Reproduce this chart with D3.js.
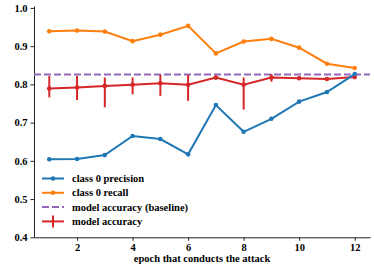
<!DOCTYPE html>
<html>
<head>
<meta charset="utf-8">
<script src="https://cdn.jsdelivr.net/npm/d3@7"></script>
<style>
body { margin: 0; background: white; }
</style>
</head>
<body>
<svg id="chart" width="374" height="267" font-family="'Liberation Serif', 'Times New Roman', serif" font-weight="bold"></svg>
<script>
const epochs = [1, 2, 3, 4, 5, 6, 7, 8, 9, 10, 11, 12]
const precision = [0.604, 0.605, 0.615, 0.665, 0.657, 0.617, 0.746, 0.676, 0.710, 0.755, 0.780, 0.827]
const recall = [0.939, 0.941, 0.938, 0.913, 0.930, 0.953, 0.881, 0.912, 0.919, 0.896, 0.854, 0.843]
const accuracy = [0.789, 0.792, 0.796, 0.799, 0.803, 0.799, 0.818, 0.799, 0.818, 0.816, 0.814, 0.819]
const accLow = [0.766, 0.759, 0.740, 0.774, 0.770, 0.757, 0.812, 0.734, 0.807, 0.812, 0.809, 0.815]
const accHigh = [0.822, 0.822, 0.818, 0.818, 0.825, 0.825, 0.822, 0.818, 0.827, 0.821, 0.819, 0.823]
const baseline = 0.826
const xTicks = [2, 4, 6, 8, 10, 12]
const yTicks = [0.4, 0.5, 0.6, 0.7, 0.8, 0.9, 1.0]

const FONT = "'Liberation Serif', 'Times New Roman', serif"
const svg = d3.select('#chart')
const x = d3.scaleLinear().domain([0.45, 12.55]).range([34, 370])
const y = d3.scaleLinear().domain([0.4, 1.005]).range([237.3, 6])

// axes
svg.append('g')
  .attr('transform', 'translate(34,0)')
  .call(d3.axisLeft(y).tickValues(yTicks).tickFormat(d3.format('.1f')).tickSize(3.5).tickSizeOuter(0))
  .call(g => g.attr('font-family', FONT).attr('font-size', 10.5))
  .call(g => g.selectAll('text').attr('fill', '#000').attr('font-weight', 'bold'))
  .call(g => g.selectAll('line, path').attr('stroke', '#222').attr('stroke-width', 1))

svg.append('g')
  .attr('transform', 'translate(0,237.3)')
  .call(d3.axisBottom(x).tickValues(xTicks).tickSize(3.5).tickSizeOuter(0))
  .call(g => g.attr('font-family', FONT).attr('font-size', 10.5))
  .call(g => g.selectAll('text').attr('fill', '#000').attr('font-weight', 'bold'))
  .call(g => g.selectAll('line, path').attr('stroke', '#222').attr('stroke-width', 1))

svg.append('text')
  .attr('x', 202).attr('y', 262)
  .attr('text-anchor', 'middle')
  .attr('font-size', 10.5)
  .text('epoch that conducts the attack')

const line = d3.line().x((d, i) => x(epochs[i])).y(d => y(d))

// baseline
svg.append('line')
  .attr('x1', 34).attr('x2', 370)
  .attr('y1', y(baseline)).attr('y2', y(baseline))
  .attr('stroke', '#9467bd').attr('stroke-width', 2)
  .attr('stroke-dasharray', '7,3')

function series(vals, color) {
  svg.append('path').datum(vals)
    .attr('d', line).attr('fill', 'none')
    .attr('stroke', color).attr('stroke-width', 2)
  svg.append('g').selectAll('circle').data(vals).join('circle')
    .attr('cx', (d, i) => x(epochs[i])).attr('cy', d => y(d))
    .attr('r', 2.3).attr('fill', color)
}

series(recall, '#ff7f0e')

// accuracy with error bars
svg.append('g').selectAll('line').data(accuracy).join('line')
  .attr('x1', (d, i) => x(epochs[i])).attr('x2', (d, i) => x(epochs[i]))
  .attr('y1', (d, i) => y(accLow[i])).attr('y2', (d, i) => y(accHigh[i]))
  .attr('stroke', '#d62728').attr('stroke-width', 2)
series(accuracy, '#d62728')

series(precision, '#1f77b4')

// legend
const legend = [
  { label: 'class 0 precision', color: '#1f77b4', type: 'marker' },
  { label: 'class 0 recall', color: '#ff7f0e', type: 'marker' },
  { label: 'model accuracy (baseline)', color: '#9467bd', type: 'dash' },
  { label: 'model accuracy', color: '#d62728', type: 'err' }
]
const lg = svg.append('g').selectAll('g').data(legend).join('g')
  .attr('transform', (d, i) => `translate(42,${178.5 + i * 14.3})`)
lg.append('line')
  .attr('x1', 0).attr('x2', 22).attr('y1', 0).attr('y2', 0)
  .attr('stroke', d => d.color).attr('stroke-width', 2)
  .attr('stroke-dasharray', d => d.type === 'dash' ? '7,3' : null)
lg.filter(d => d.type === 'marker').append('circle')
  .attr('cx', 11).attr('cy', 0).attr('r', 2.3).attr('fill', d => d.color)
lg.filter(d => d.type === 'err').append('line')
  .attr('x1', 11).attr('x2', 11).attr('y1', -6).attr('y2', 6)
  .attr('stroke', d => d.color).attr('stroke-width', 2)
lg.append('text')
  .attr('x', 30).attr('y', 3.5)
  .attr('font-size', 10.5)
  .text(d => d.label)
</script>
</body>
</html>
